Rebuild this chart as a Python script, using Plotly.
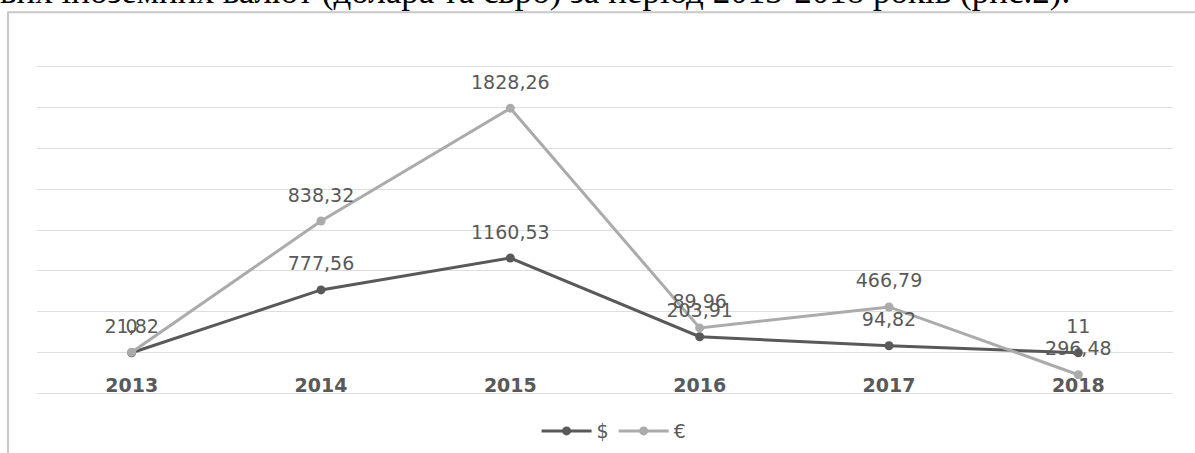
import plotly.graph_objects as go

years = ["2013", "2014", "2015", "2016", "2017", "2018"]
usd_values = [0, 384, 579, 98, 43, 0]
eur_values = [3, 805, 1494, 152, 280, -134]
usd_labels = ["0", "777,56", "1160,53", "203,91", "94,82", "11"]
eur_labels = ["21,82", "838,32", "1828,26", "89,96", "466,79", "296,48"]
legend_names = ["$", "€"]

usd_color = "#595959"
eur_color = "#ababab"
text_color = "#595959"
label_font = dict(family="DejaVu Sans", size=19, color=text_color)

fig = go.Figure()
fig.add_trace(go.Scatter(
    x=years, y=usd_values, name=legend_names[0], mode="lines+markers",
    line=dict(color=usd_color, width=3), marker=dict(color=usd_color, size=9, symbol="circle"),
))
fig.add_trace(go.Scatter(
    x=years, y=eur_values, name=legend_names[1], mode="lines+markers",
    line=dict(color=eur_color, width=3), marker=dict(color=eur_color, size=9, symbol="circle"),
))
for vals, labs in [(usd_values, usd_labels), (eur_values, eur_labels)]:
    fig.add_trace(go.Scatter(
        x=years, y=vals, mode="markers+text", text=labs, textposition="top center",
        textfont=label_font, marker=dict(size=22, opacity=0), showlegend=False,
        hoverinfo="skip",
    ))

fig.update_layout(
    width=1195, height=453,
    margin=dict(l=37, r=22, t=63, b=56, autoexpand=False),
    paper_bgcolor="white", plot_bgcolor="white",
    showlegend=True,
    legend=dict(orientation="h", x=0.508, xanchor="center", y=-0.102, yanchor="middle",
                font=dict(family="DejaVu Sans", size=19, color=text_color),
                itemwidth=50, tracegroupgap=0),
    annotations=[dict(
        xref="paper", yref="paper", x=-0.034, y=1.213, xanchor="left", yanchor="middle",
        text="вих іноземних валют (долара та євро) за період 2013-2018 років (рис.2).",
        showarrow=False, font=dict(family="Liberation Serif", size=35, color="#000000"),
    )],
    shapes=[dict(type="rect", xref="paper", yref="paper", x0=-0.0255, y0=-0.4, x1=1.1, y1=1.152,
                 line=dict(color="#c8c8c8", width=2), layer="below")],
    xaxis=dict(type="category", range=[-0.5, 5.5], anchor="free", position=(0 + 270) / 2040,
               showgrid=False, showline=False, zeroline=False, ticks="",
               ticklabelstandoff=19,
               tickfont=dict(family="DejaVu Sans", size=19, color=text_color, weight="bold")),
    yaxis=dict(range=[-270, 1770], dtick=250, tick0=0, showticklabels=False,
               showgrid=True, gridcolor="#dedede", gridwidth=1, zeroline=False, showline=False),
)

fig.write_html("out.html")
